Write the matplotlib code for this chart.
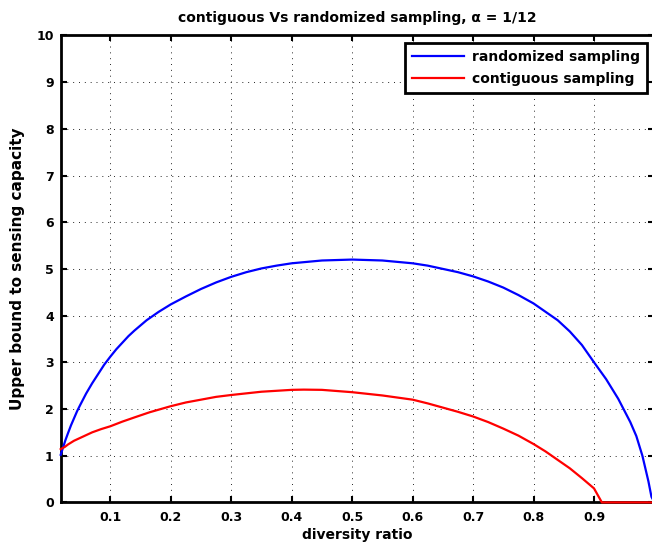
import matplotlib
matplotlib.use("Agg")
import matplotlib.pyplot as plt

# ---- data ----
x_rand = [0.018, 0.022, 0.026, 0.03, 0.035, 0.04, 0.045, 0.05, 0.06, 0.07,
          0.08, 0.09, 0.1, 0.11, 0.12, 0.13, 0.14, 0.16, 0.18, 0.2,
          0.225, 0.25, 0.275, 0.3, 0.325, 0.35, 0.375, 0.4, 0.45, 0.5,
          0.55, 0.6, 0.625, 0.65, 0.675, 0.7, 0.725, 0.75, 0.775, 0.8,
          0.82, 0.84, 0.86, 0.88, 0.9, 0.92, 0.94, 0.96, 0.97, 0.98,
          0.99, 0.995, 1.0]
y_rand = [1.02, 1.18, 1.34, 1.48, 1.65, 1.80, 1.95, 2.08, 2.33, 2.55,
          2.75, 2.95, 3.12, 3.28, 3.42, 3.56, 3.68, 3.90, 4.08, 4.24,
          4.41, 4.57, 4.71, 4.83, 4.93, 5.01, 5.07, 5.12, 5.18, 5.20,
          5.18, 5.12, 5.07, 5.00, 4.93, 4.84, 4.73, 4.60, 4.44, 4.26,
          4.08, 3.90, 3.66, 3.37, 3.00, 2.64, 2.22, 1.72, 1.42, 1.00,
          0.45, 0.12, 0.0]

x_cont = [0.018, 0.025, 0.03, 0.04, 0.055, 0.07, 0.085, 0.1, 0.12, 0.14,
          0.165, 0.2, 0.225, 0.25, 0.275, 0.3, 0.35, 0.4, 0.42, 0.45,
          0.5, 0.55, 0.6, 0.625, 0.65, 0.675, 0.7, 0.725, 0.75, 0.775,
          0.8, 0.82, 0.84, 0.86, 0.88, 0.9, 0.913, 0.95, 1.0]
y_cont = [1.14, 1.19, 1.24, 1.32, 1.41, 1.50, 1.57, 1.63, 1.73, 1.82,
          1.93, 2.06, 2.14, 2.20, 2.26, 2.30, 2.37, 2.41, 2.415, 2.41,
          2.36, 2.29, 2.20, 2.12, 2.03, 1.94, 1.84, 1.72, 1.58, 1.43,
          1.25, 1.09, 0.91, 0.73, 0.52, 0.30, 0.0, 0.0, 0.0]

x_ticks = [0.1, 0.2, 0.3, 0.4, 0.5, 0.6, 0.7, 0.8, 0.9, 1.0]
x_tick_labels = ["0.1", "0.2", "0.3", "0.4", "0.5", "0.6", "0.7", "0.8", "0.9", "1"]
y_ticks = [0, 1, 2, 3, 4, 5, 6, 7, 8, 9, 10]

title_text = "contiguous Vs randomized sampling, \u03b1 = 1/12"
xlabel_text = "diversity ratio"
ylabel_text = "Upper bound to sensing capacity"
legend_labels = ["randomized sampling", "contiguous sampling"]

plt.rcParams['font.family'] = ['DejaVu Sans']
plt.rcParams['font.weight'] = 'bold'

fig = plt.figure(figsize=(6.52, 5.48), dpi=100)
ax = fig.add_axes([0.0931, 0.0832, 0.9107, 0.8522])

ax.plot(x_rand, y_rand, color=(0, 0, 1), lw=1.6, label=legend_labels[0],
        zorder=3, clip_on=False)
ax.plot(x_cont, y_cont, color=(1, 0, 0), lw=1.6, label=legend_labels[1],
        zorder=3, clip_on=False)

ax.set_xlim(0.018, 1.0)
ax.set_ylim(0, 10)
ax.set_xticks(x_ticks)
ax.set_xticklabels(x_tick_labels)
ax.set_yticks(y_ticks)
ax.set_yticklabels([str(v) for v in y_ticks])

ax.grid(True, color='k', linestyle=(0, (1, 5)), lw=0.7, alpha=0.85)
ax.tick_params(direction='in', length=4.3, width=1.5, top=True, right=True,
               labelsize=9, colors='k')
ax.tick_params(axis='x', pad=6)
ax.tick_params(axis='y', pad=5)
for lbl in ax.get_xticklabels() + ax.get_yticklabels():
    lbl.set_fontweight('bold')
for sp in ax.spines.values():
    sp.set_linewidth(2.0)
    sp.set_color('k')

ax.set_title(title_text, fontsize=10, fontweight='bold', pad=10)
ax.set_xlabel(xlabel_text, fontsize=10, fontweight='bold', labelpad=3)
ax.set_ylabel(ylabel_text, fontsize=11, fontweight='bold', labelpad=8)

leg = ax.legend(loc='upper right', bbox_to_anchor=(0.987, 0.984),
                fancybox=False, framealpha=1, edgecolor='k',
                prop={'weight': 'bold', 'size': 10},
                handlelength=3.75, handletextpad=0.55, borderpad=0.5,
                labelspacing=0.6, borderaxespad=0)
leg.get_frame().set_linewidth(2.0)
leg.set_zorder(5)

fig.savefig("out.png", dpi=100)
